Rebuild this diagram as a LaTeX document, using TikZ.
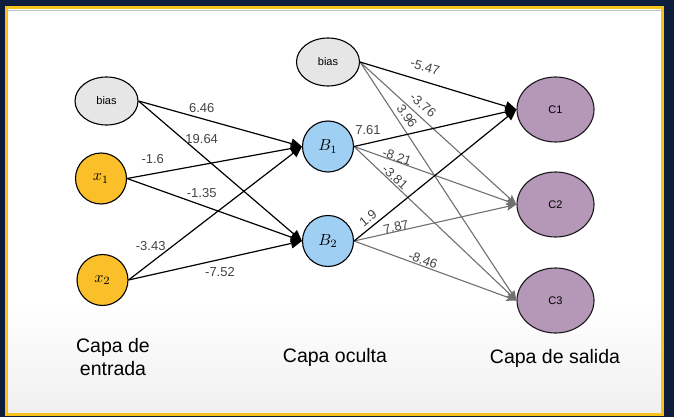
\documentclass[tikz,border=0pt]{standalone}
\usepackage{fontspec}
\setmainfont{Liberation Sans}
\usetikzlibrary{arrows.meta,shapes.geometric}
\definecolor{navy}{HTML}{0F1D3D}
\definecolor{frameyel}{HTML}{F6C21C}
\definecolor{biasfill}{HTML}{E6E6E6}
\definecolor{xfill}{HTML}{FBBF2A}
\definecolor{bfill}{HTML}{9FCFF3}
\definecolor{cfill}{HTML}{B597B8}
\definecolor{lbl}{HTML}{444444}
\definecolor{edgegray}{HTML}{707070}
\newcommand{\bigmath}[1]{\scalebox{1.6}{$#1$}}
\tikzset{
  biasnode/.style={ellipse,draw=black,line width=1.1pt,fill=biasfill,minimum width=63pt,minimum height=48pt,inner sep=0pt,font=\fontsize{11}{12}\selectfont},
  inputnode/.style={circle,draw=black,line width=1.1pt,fill=xfill,minimum size=51pt,inner sep=0pt},
  hiddennode/.style={circle,draw=black,line width=1.1pt,fill=bfill,minimum size=51pt,inner sep=0pt},
  outnode/.style={ellipse,draw=black!85!cfill,line width=1.1pt,fill=cfill,minimum width=77pt,minimum height=65pt,inner sep=0pt,font=\fontsize{11}{12}\selectfont},
  blackedge/.style={draw=black,line width=1.2pt,-{Triangle[length=11pt,width=10pt]}},
  grayedge/.style={draw=edgegray,line width=1.1pt,-{Stealth[length=10pt,width=8pt,inset=2pt]}},
  wlabel/.style={text=lbl,font=\fontsize{13}{14}\selectfont,inner sep=0pt},
  caption/.style={text=black,font=\fontsize{19.5}{23}\selectfont,align=center,inner sep=0pt},
}
\begin{document}
\begin{tikzpicture}[x=1pt,y=-1pt]
\useasboundingbox (0,0) rectangle (674,417);
\fill[navy] (0,0) rectangle (674,417);
\fill[white] (6,8) rectangle (662,300);
\shade[top color=white,bottom color=black!6] (6,300) rectangle (662,414);
\draw[black!25,line width=1pt] (7.5,10.5) -- (660.5,10.5);
\draw[frameyel,line width=3pt] (6,8) rectangle (662,414);

% nodes
\node[biasnode] (b1) at (106.5,101) {bias};
\node[inputnode] (x1) at (101,178.5) {\bigmath{x_1}};
\node[inputnode] (x2) at (102.5,280) {\bigmath{x_2}};
\node[biasnode] (b2) at (328,62) {bias};
\node[hiddennode] (h1) at (328,146.5) {\bigmath{B_1}};
\node[hiddennode] (h2) at (328,241) {\bigmath{B_2}};
\node[outnode] (c1) at (555.5,109.5) {C1};
\node[outnode] (c2) at (555.5,204.5) {C2};
\node[outnode] (c3) at (555.5,300.5) {C3};

% input -> hidden
\draw[blackedge] (b1.east) -- (h1.west);
\draw[blackedge] (b1.east) -- (h2.west);
\draw[blackedge] (x1.east) -- (h1.west);
\draw[blackedge] (x1.east) -- (h2.west);
\draw[blackedge] (x2.east) -- (h1.west);
\draw[blackedge] (x2.east) -- (h2.west);

% hidden -> output
\draw[grayedge] (b2.east) -- (c2.west);
\draw[grayedge] (b2.east) -- (c3.west);
\draw[grayedge] (h1.east) -- (c2.west);
\draw[grayedge] (h1.east) -- (c3.west);
\draw[grayedge] (h2.east) -- (c2.west);
\draw[grayedge] (h2.east) -- (c3.west);
\draw[blackedge] (b2.east) -- (c1.west);
\draw[blackedge] (h1.east) -- (c1.west);
\draw[blackedge] (h2.east) -- (c1.west);

% weights layer 1
\node[wlabel] (w1) at (201.7,108.3) {6.46};
\node[wlabel] (w2) at (201.7,139) {19.64};
\node[wlabel] (w3) at (152.7,159.3) {-1.6};
\node[wlabel] (w4) at (201.7,192.7) {-1.35};
\node[wlabel] (w5) at (150.7,246) {-3.43};
\node[wlabel] (w6) at (220,272.3) {-7.52};

% weights layer 2
\node[wlabel,rotate=-16] (w7) at (425,66.7) {-5.47};
\node[wlabel,rotate=-41] (w8) at (423,105) {-3.76};
\node[wlabel,rotate=-56] (w9) at (407,116) {3.96};
\node[wlabel] (w10) at (368,130) {7.61};
\node[wlabel,rotate=-19] (w11) at (397,157) {-8.21};
\node[wlabel,rotate=-43] (w12) at (395,177) {-3.81};
\node[wlabel,rotate=39] (w13) at (368,218) {1.9};
\node[wlabel,rotate=13] (w14) at (396,227) {7.87};
\node[wlabel,rotate=-20] (w15) at (423,260) {-8.46};

% captions
\node[caption] (cap1) at (113,357.5) {Capa de\\entrada};
\node[caption] (cap2) at (335,357) {Capa oculta};
\node[caption] (cap3) at (555,358) {Capa de salida};
\end{tikzpicture}
\end{document}
